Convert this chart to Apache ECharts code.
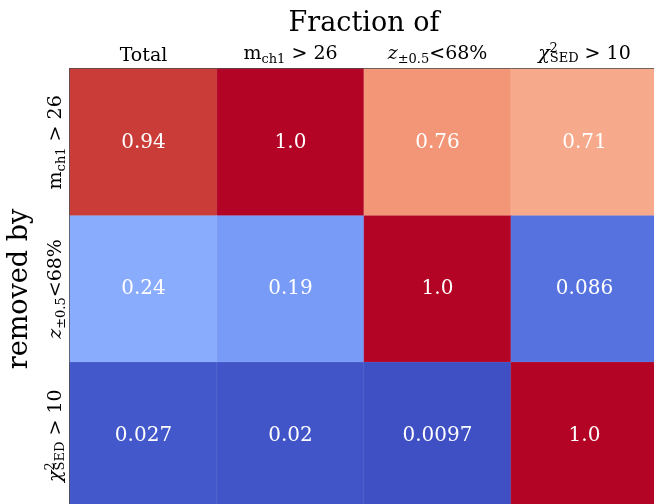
<!DOCTYPE html>
<html>
<head>
<meta charset="utf-8">
<script src="https://cdn.jsdelivr.net/npm/echarts@6/dist/echarts.min.js"></script>
<style>
  html, body { margin: 0; padding: 0; background: #fff; }
  #chart { width: 654px; height: 504px; }
</style>
</head>
<body>
<div id="chart"></div>
<script>
// Column categories ("Fraction of ...") and row categories ("removed by ...")
const columns = ['Total', 'mch1', 'zfrac', 'chi2'];
const rows = ['mch1', 'zfrac', 'chi2'];

// Fractions, one array per removal cut (row)
const removedByMch1 = [0.94, 1.0, 0.76, 0.71];
const removedByZfrac = [0.24, 0.19, 1.0, 0.086];
const removedByChi2 = [0.027, 0.02, 0.0097, 1.0];

// matplotlib "coolwarm" colour stops, evenly spaced over [0, 1]
const coolwarm = [
  '#3b4cc0', '#445acc', '#4d68d7', '#5775e1', '#6282ea', '#6c8ef1', '#779af7', '#82a5fb',
  '#8db0fe', '#98b9ff', '#a3c2ff', '#aec9fd', '#b8d0f9', '#c2d5f4', '#ccd9ee', '#d5dbe6',
  '#dddddd', '#e5d8d1', '#ecd3c5', '#f1ccb9', '#f5c4ad', '#f7bba0', '#f7b194', '#f7a688',
  '#f49a7b', '#f18d6f', '#ec7f63', '#e57058', '#de604d', '#d55042', '#cb3e38', '#c0282f',
  '#b40426'
];

const FONT = 'DejaVu Serif';

// Rich-text markup for the mathematical axis labels
const labelMarkup = {
  Total: '{n|Total}',
  mch1: '{n|m}{sub|ch1}{n| > 26}',
  zfrac: '{it|z}{sub|±0.5}{n|<68%}',
  chi2: '{it|χ}{sup|2}{sub|SED}{n| > 10}'
};

const richStyles = {
  n: { fontFamily: FONT, fontSize: 19, color: '#000' },
  it: { fontFamily: FONT, fontSize: 19, fontStyle: 'italic', color: '#000' },
  sub: { fontFamily: FONT, fontSize: 13, color: '#000', padding: [10, 0, 0, 0] },
  sup: { fontFamily: FONT, fontSize: 13, color: '#000', width: 0, padding: [0, -4, 11, 4] }
};

const rowArrays = [removedByMch1, removedByZfrac, removedByChi2];
const cells = [];
rowArrays.forEach((vals, r) => {
  vals.forEach((v, c) => cells.push([c, r, v]));
});

function fmt(v) {
  return Number.isInteger(v) ? v.toFixed(1) : String(v);
}

const chart = echarts.init(document.getElementById('chart'), null, { renderer: 'canvas' });
chart.setOption({
  animation: false,
  backgroundColor: '#fff',
  grid: { left: 70, top: 69, width: 588, height: 440, containLabel: false, outerBoundsMode: 'none' },
  xAxis: {
    type: 'category',
    position: 'top',
    data: columns,
    name: 'Fraction of',
    nameLocation: 'middle',
    nameGap: 32,
    nameTextStyle: { fontFamily: FONT, fontSize: 27, color: '#000' },
    axisLine: { show: true, lineStyle: { color: '#000', width: 1.5 } },
    axisTick: { show: false },
    splitLine: { show: false },
    axisLabel: {
      margin: 3,
      interval: 0,
      formatter: (v) => labelMarkup[v],
      rich: richStyles
    }
  },
  yAxis: {
    type: 'category',
    inverse: true,
    data: rows,
    name: 'removed by',
    nameLocation: 'middle',
    nameGap: 37,
    nameTextStyle: { fontFamily: FONT, fontSize: 27, color: '#000' },
    axisLine: { show: true, lineStyle: { color: '#000', width: 1.5 } },
    axisTick: { show: false },
    splitLine: { show: false },
    axisLabel: {
      rotate: 90,
      margin: 2,
      interval: 0,
      formatter: (v) => labelMarkup[v],
      rich: richStyles
    }
  },
  visualMap: {
    show: false,
    min: 0,
    max: 1,
    dimension: 2,
    inRange: { color: coolwarm }
  },
  series: [{
    type: 'heatmap',
    data: cells,
    itemStyle: { borderColor: 'rgba(255,255,255,0.08)', borderWidth: 1 },
    label: {
      show: true,
      color: '#fff',
      fontFamily: FONT,
      fontSize: 20,
      formatter: (p) => fmt(p.value[2])
    },
    emphasis: { disabled: true }
  }]
});
</script>
</body>
</html>
